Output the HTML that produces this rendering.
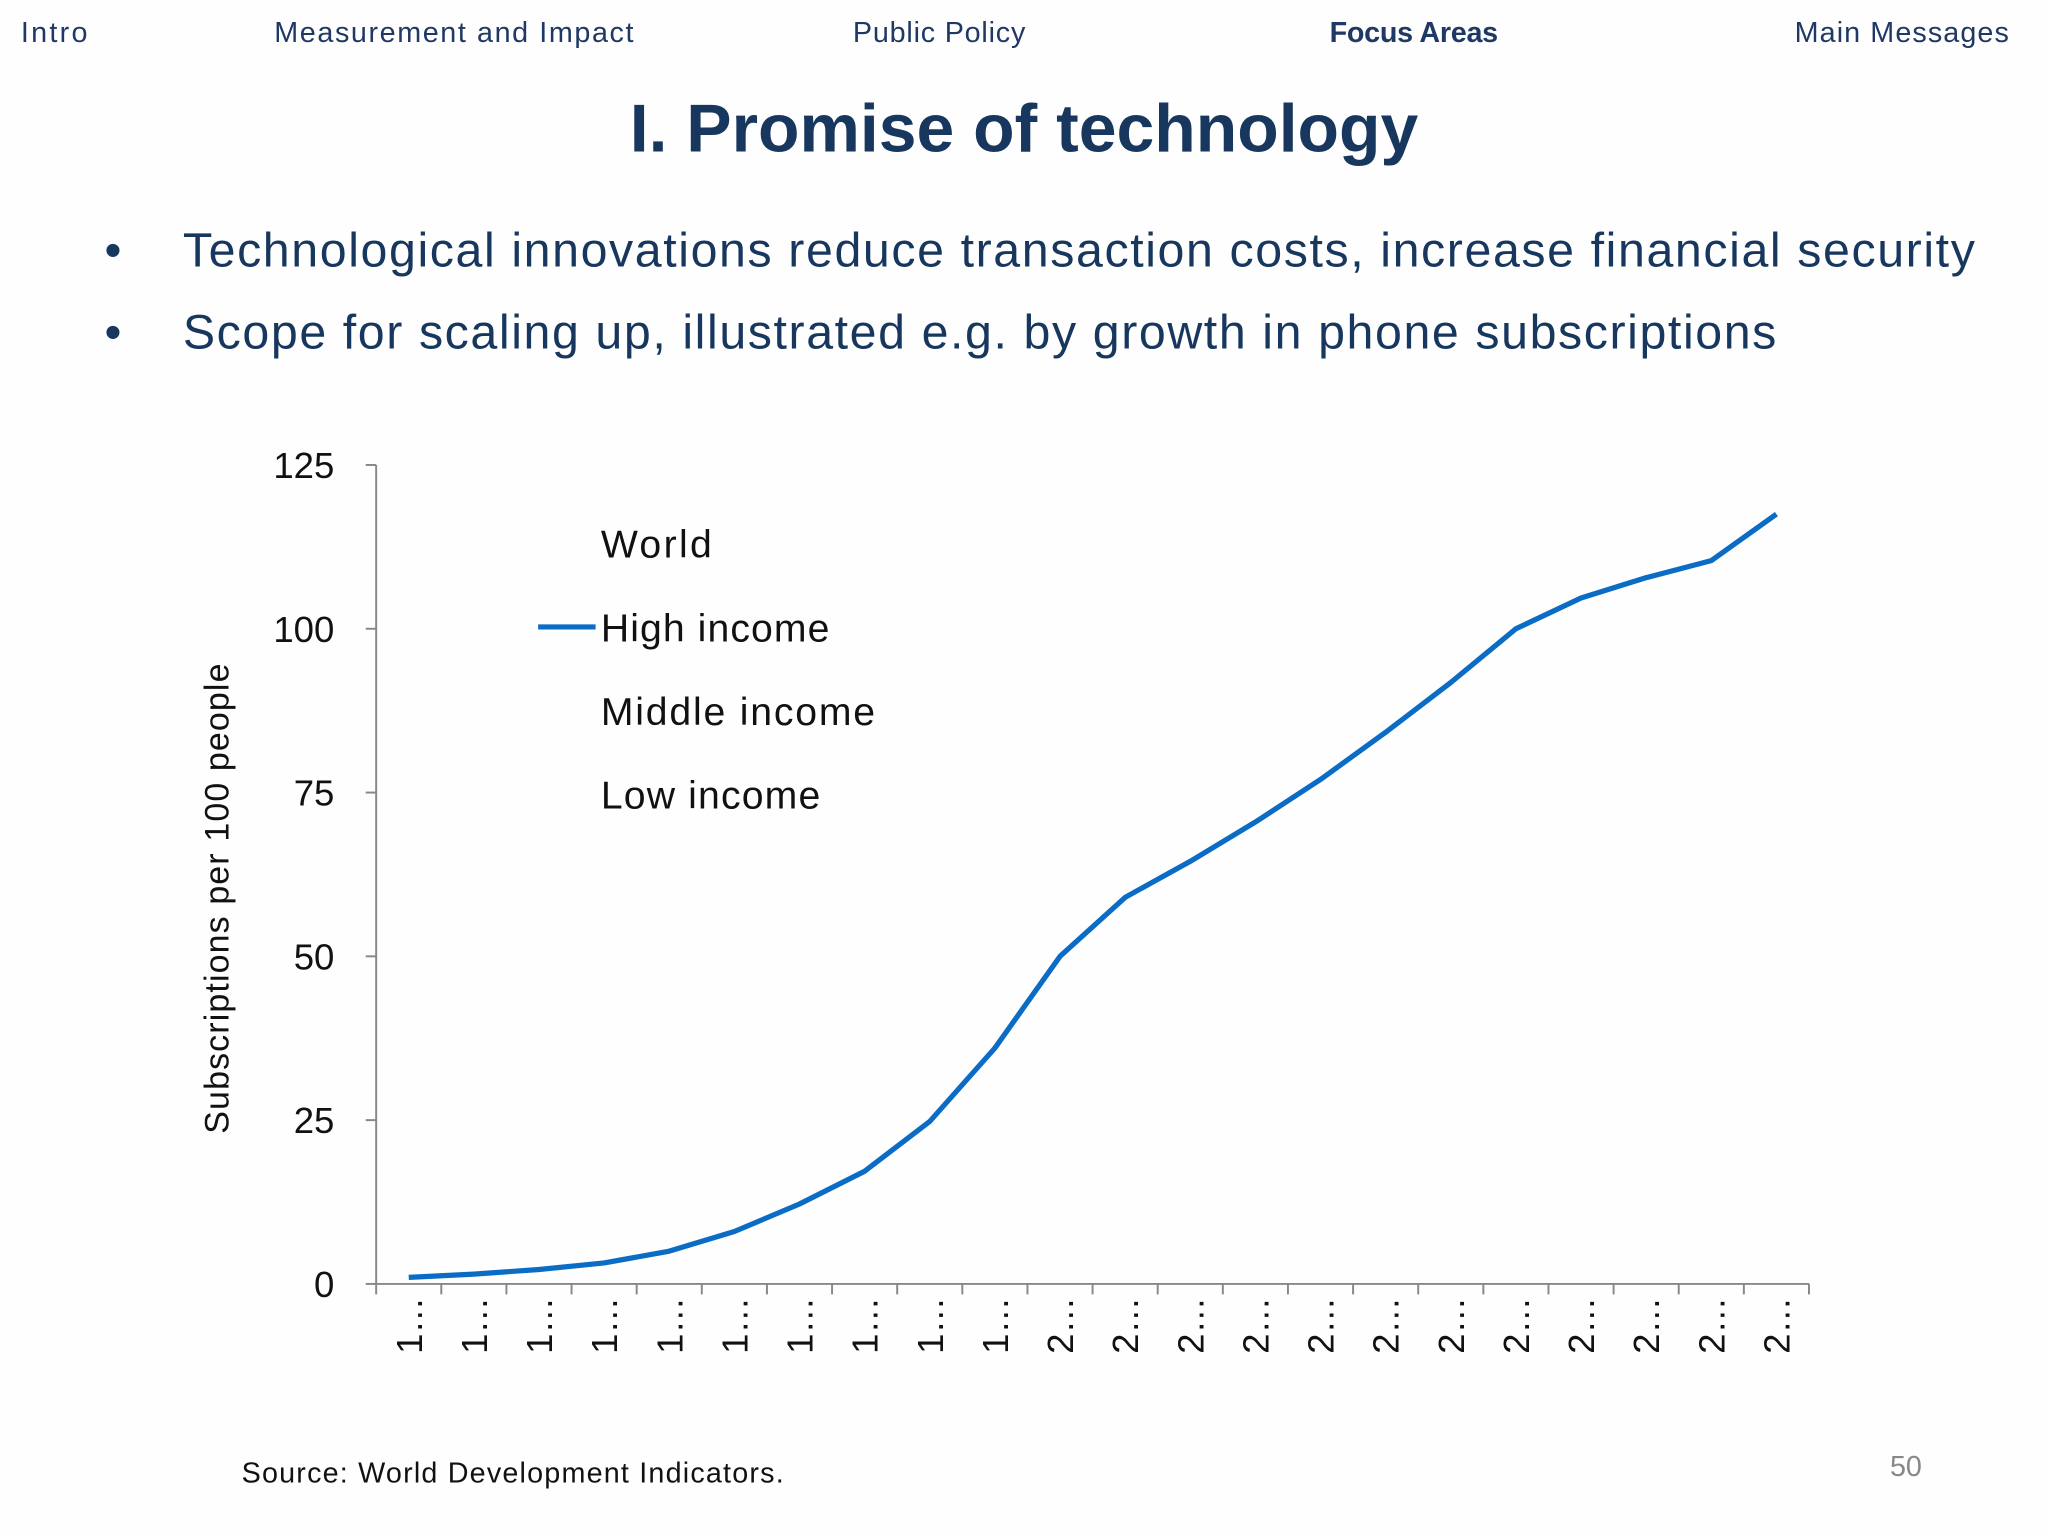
<!DOCTYPE html>
<html><head><meta charset="utf-8"><style>
html,body{margin:0;padding:0;background:#fefefe;}
svg{display:block;font-family:"Liberation Sans",sans-serif;}
</style></head><body>
<svg width="2048" height="1536" viewBox="0 0 1568 1176">
<rect width="1568" height="1176" fill="#fefefe"/>
<g font-size="22" fill="#1f3864">
<text x="16" y="32" textLength="51">Intro</text>
<text x="210" y="32" textLength="275">Measurement and Impact</text>
<text x="653" y="32" textLength="132">Public Policy</text>
<text x="1018" y="32" font-weight="bold" textLength="129">Focus Areas</text>
<text x="1374" y="32" textLength="164">Main Messages</text>
</g>
<text x="784" y="116" text-anchor="middle" font-size="52" font-weight="bold" fill="#17375e">I. Promise of technology</text>
<g font-size="37" fill="#17375e">
<text x="80" y="204">•</text>
<text x="140" y="204" textLength="1372">Technological innovations reduce transaction costs, increase financial security</text>
<text x="80" y="267">•</text>
<text x="140" y="267" textLength="1220">Scope for scaling up, illustrated e.g. by growth in phone subscriptions</text>
</g>
<g id="chart"></g>
<text x="185" y="1135" font-size="22" fill="#111" textLength="415">Source: World Development Indicators.</text>
<text x="1447" y="1130" font-size="22" fill="#888">50</text>
</svg>
<script>
const categories=["1990","1991","1992","1993","1994","1995","1996","1997","1998","1999","2000","2001","2002","2003","2004","2005","2006","2007","2008","2009","2010","2011"];
const highIncome=[1,1.5,2.2,3.2,5,8,12.2,17.2,24.8,36,50,59,64.5,70.5,77,84.2,91.8,100,104.7,107.8,110.4,117.5];
const yTicks=[0,25,50,75,100,125];
const legendLabels=["World","High income","Middle income","Low income"];
const legendWidths=[85,175,210,168];
const NS="http://www.w3.org/2000/svg";
const g=document.getElementById('chart');
const x0=288,x1=1385,y0=983,y1=356;
const bw=(x1-x0)/categories.length;
const X=i=>x0+bw*(i+0.5);
const Y=v=>y0-(v/125)*(y0-y1);
function mk(t,a,p){const e=document.createElementNS(NS,t);for(const k in a)e.setAttribute(k,a[k]);(p||g).appendChild(e);return e;}
let e=mk('line',{x1:x0,y1:y1,x2:x0,y2:y0,stroke:'#888','stroke-width':1.5});


e=mk('line',{x1:x0,y1:y0,x2:x1,y2:y0,stroke:'#888','stroke-width':1.5});


yTicks.forEach(v=>{
 let t=mk('line',{x1:x0-8,y1:Y(v),x2:x0,y2:Y(v),stroke:'#888','stroke-width':1.5});
 
 
 let l=mk('text',{x:256,y:Y(v)+10,'text-anchor':'end','font-size':28,fill:'#111'});
 l.textContent=v;
 
 
});
for(let i=0;i<=categories.length;i++){
 let t=mk('line',{x1:x0+bw*i,y1:y0,x2:x0+bw*i,y2:y0+8,stroke:'#888','stroke-width':1.5});
 
 
}
categories.forEach((c,i)=>{
 let l=mk('text',{x:0,y:0,'font-size':28,fill:'#111','text-anchor':'end',transform:`translate(${X(i)+10},${y0+10}) rotate(-90)`});
 l.textContent=c[0]+'…';
 
 
});
let yt=mk('text',{x:0,y:0,'font-size':26,fill:'#111','text-anchor':'middle',textLength:360,transform:'translate(175,688) rotate(-90)'});
yt.textContent='Subscriptions per 100 people';


let pl=mk('polyline',{points:highIncome.map((v,i)=>X(i)+','+Y(v)).join(' '),fill:'none',stroke:'#0a6cc5','stroke-width':4,'stroke-linejoin':'round'});


legendLabels.forEach((s,i)=>{
 const ly=417+i*64;
 if(s==='High income'){
  let ln=mk('line',{x1:412,y1:ly-1,x2:456,y2:ly-1,stroke:'#0a6cc5','stroke-width':4});
  
  
 }
 let t=mk('text',{x:460,y:ly+10,'font-size':30,fill:'#111',textLength:legendWidths[i]});
 t.textContent=s;
 
 
});
</script>
</body></html>
